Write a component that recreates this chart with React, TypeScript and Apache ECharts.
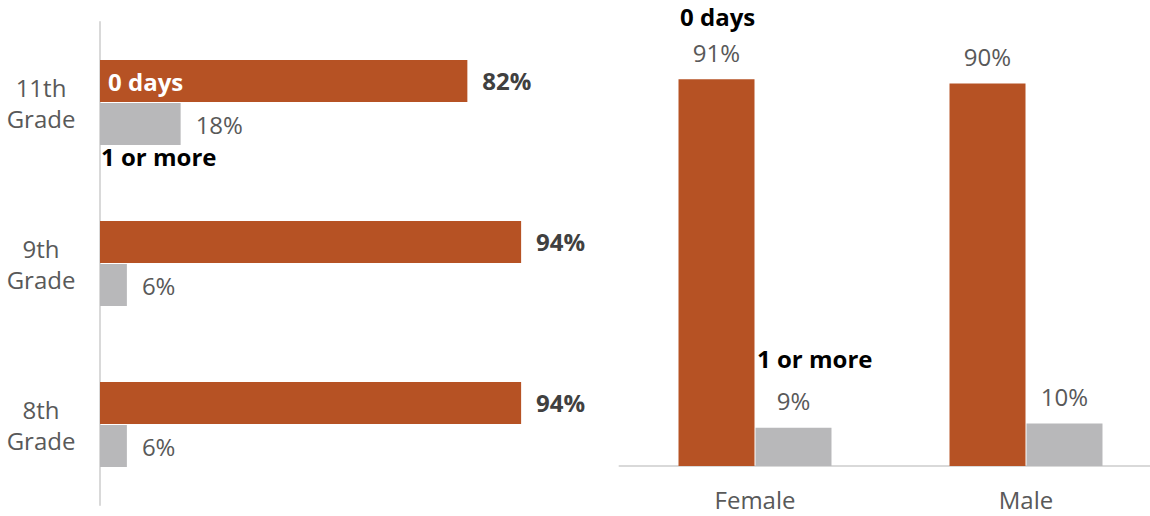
import React, { useEffect, useRef } from "react";
import * as echarts from "echarts";

const gradeCategories = ["11th\nGrade", "9th\nGrade", "8th\nGrade"];
const gradeZeroDays = [82, 94, 94];
const gradeOneOrMore = [18, 6, 6];

const genderCategories = ["Female", "Male"];
const genderZeroDays = [91, 90];
const genderOneOrMore = [9, 10];

const ORANGE = "#B65224";
const GRAY = "#B8B8BA";
const AXIS = "#D9D9D9";
const TEXT = "#595959";
const FONT = "'Open Sans', 'Noto Sans', sans-serif";
const FS = 24;

export default function App() {
  const ref = useRef<HTMLDivElement>(null);
  useEffect(() => {
    document.body.style.margin = "0";
    const chart = echarts.init(ref.current!, null, { renderer: "svg" });
    const pct = (p: any) => `${p.value}%`;
    chart.setOption({
      animation: false,
      textStyle: { fontFamily: FONT },
      grid: [
        { left: 100, top: 22, width: 448, height: 483, outerBoundsMode: "none" },
        { left: 619.5, top: 41, width: 542, height: 425, outerBoundsMode: "none" },
      ],
      xAxis: [
        { type: "value", gridIndex: 0, min: 0, max: 100, show: false },
        {
          type: "category",
          gridIndex: 1,
          data: genderCategories,
          axisLine: { lineStyle: { color: AXIS, width: 2 } },
          axisTick: { show: false },
          axisLabel: { color: TEXT, fontSize: FS, margin: 21, fontFamily: FONT },
        },
      ],
      yAxis: [
        {
          type: "category",
          gridIndex: 0,
          data: gradeCategories,
          inverse: true,
          axisLine: { lineStyle: { color: AXIS, width: 2 } },
          axisTick: { show: false },
          axisLabel: {
            color: TEXT,
            fontSize: FS,
            lineHeight: 31,
            align: "center",
            margin: 59,
            fontFamily: FONT,
          },
        },
        { type: "value", gridIndex: 1, min: 0, max: 100, show: false },
      ],
      series: [
        {
          type: "bar",
          xAxisIndex: 0,
          yAxisIndex: 0,
          data: gradeZeroDays,
          barWidth: 42,
          barGap: "2.5%",
          itemStyle: { color: ORANGE },
          label: {
            show: true,
            position: "right",
            distance: 15,
            formatter: pct,
            color: "#404040",
            fontWeight: "bold",
            fontSize: FS,
            fontFamily: FONT,
          },
        },
        {
          type: "bar",
          xAxisIndex: 0,
          yAxisIndex: 0,
          data: gradeOneOrMore,
          barWidth: 42,
          barGap: "2.5%",
          itemStyle: { color: GRAY },
          label: {
            show: true,
            position: "right",
            distance: 15,
            formatter: pct,
            color: TEXT,
            fontSize: FS,
            fontFamily: FONT,
          },
        },
        {
          type: "bar",
          xAxisIndex: 1,
          yAxisIndex: 1,
          data: genderZeroDays,
          barWidth: 76,
          barGap: "1.3%",
          itemStyle: { color: ORANGE },
          label: {
            show: true,
            position: "top",
            distance: 15,
            formatter: pct,
            color: TEXT,
            fontSize: FS,
            fontFamily: FONT,
          },
        },
        {
          type: "bar",
          xAxisIndex: 1,
          yAxisIndex: 1,
          data: genderOneOrMore,
          barWidth: 76,
          barGap: "1.3%",
          itemStyle: { color: GRAY },
          label: {
            show: true,
            position: "top",
            distance: 15,
            formatter: pct,
            color: TEXT,
            fontSize: FS,
            fontFamily: FONT,
          },
        },
      ],
      graphic: [
        {
          type: "text",
          left: 108,
          top: 69,
          z: 100,
          style: { text: "0 days", fill: "#FFFFFF", font: `bold ${FS}px ${FONT}` },
        },
        {
          type: "text",
          left: 101,
          top: 144,
          z: 100,
          style: { text: "1 or more", fill: "#000000", font: `bold ${FS}px ${FONT}` },
        },
        {
          type: "text",
          left: 680,
          top: 4,
          z: 100,
          style: { text: "0 days", fill: "#000000", font: `bold ${FS}px ${FONT}` },
        },
        {
          type: "text",
          left: 757,
          top: 346,
          z: 100,
          style: { text: "1 or more", fill: "#000000", font: `bold ${FS}px ${FONT}` },
        },
      ],
    });
    return () => chart.dispose();
  }, []);
  return <div ref={ref} style={{ width: 1150, height: 516 }} />;
}
